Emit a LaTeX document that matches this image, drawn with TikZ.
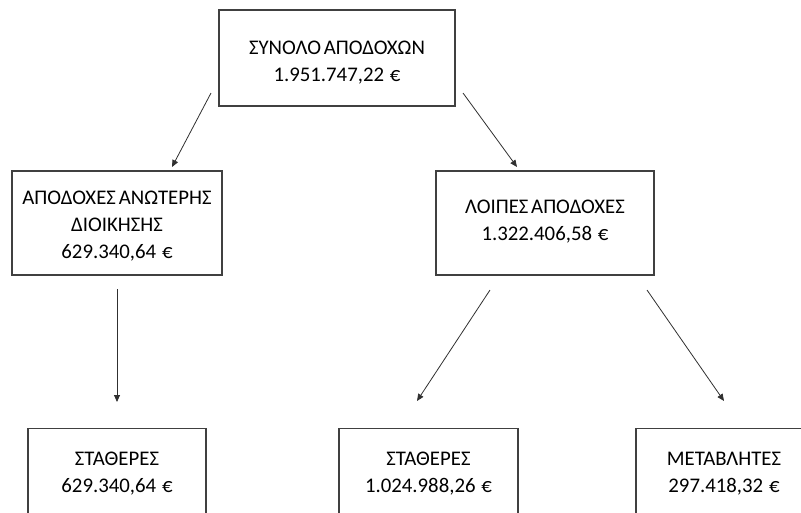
\documentclass[tikz,border=0pt]{standalone}
\usepackage{fontspec}
\setmainfont[WordSpace=0.6]{Carlito}
\usetikzlibrary{arrows.meta}
\newcommand\myeuro{\hspace{0.28em}€}
\definecolor{boxline}{HTML}{404040}
\definecolor{arrline}{HTML}{303030}
\tikzset{
  box/.style={draw=boxline, line width=1.1pt, inner sep=0pt, fill=white},
  lbl/.style={align=center, inner sep=0pt, text=black, font=\fontsize{20.8}{27}\selectfont},
  conn/.style={draw=arrline, line width=0.8pt, -{Triangle[length=7pt,width=6pt]}}
}
\begin{document}
\begin{tikzpicture}[x=1pt,y=-1pt]
\useasboundingbox (0,0) rectangle (801,512);
\clip (0,0) rectangle (801,512);
% boxes
\node[box, minimum width=236pt, minimum height=96pt] (top) at (337,58) {};
\node[box, minimum width=210pt, minimum height=104pt] (adm) at (117,223) {};
\node[box, minimum width=218pt, minimum height=104pt] (lop) at (545,223) {};
\node[box, minimum width=178pt, minimum height=104pt, anchor=north] (st1) at (117,428) {};
\node[box, minimum width=179pt, minimum height=104pt, anchor=north] (st2) at (428.5,428) {};
\node[box, minimum width=176pt, minimum height=104pt, anchor=north] (met) at (724,428) {};
% texts
\node[lbl] (ttop) at (337,63) {ΣΥΝΟΛΟ ΑΠΟΔΟΧΩΝ\\1.951.747,22\myeuro};
\node[lbl] (tadm) at (117,226) {ΑΠΟΔΟΧΕΣ ΑΝΩΤΕΡΗΣ\\ΔΙΟΙΚΗΣΗΣ\\629.340,64\myeuro};
\node[lbl] (tlop) at (545,222) {ΛΟΙΠΕΣ ΑΠΟΔΟΧΕΣ\\1.322.406,58\myeuro};
\node[lbl] (tst1) at (117,473.5) {ΣΤΑΘΕΡΕΣ\\629.340,64\myeuro};
\node[lbl] (tst2) at (428.5,473.5) {ΣΤΑΘΕΡΕΣ\\1.024.988,26\myeuro};
\node[lbl] (tmet) at (724,473.5) {ΜΕΤΑΒΛΗΤΕΣ\\297.418,32\myeuro};
% arrow ends
\coordinate (a1s) at (211,93);  \coordinate (a1e) at (172,167);
\coordinate (a2s) at (463,93);  \coordinate (a2e) at (517,167);
\coordinate (a3s) at (117,289); \coordinate (a3e) at (117,402);
\coordinate (a4s) at (490,290); \coordinate (a4e) at (417,401);
\coordinate (a5s) at (647,290); \coordinate (a5e) at (724,401);
\draw[conn] (a1s) -- (a1e);
\draw[conn] (a2s) -- (a2e);
\draw[conn] (a3s) -- (a3e);
\draw[conn] (a4s) -- (a4e);
\draw[conn] (a5s) -- (a5e);
\end{tikzpicture}
\end{document}
